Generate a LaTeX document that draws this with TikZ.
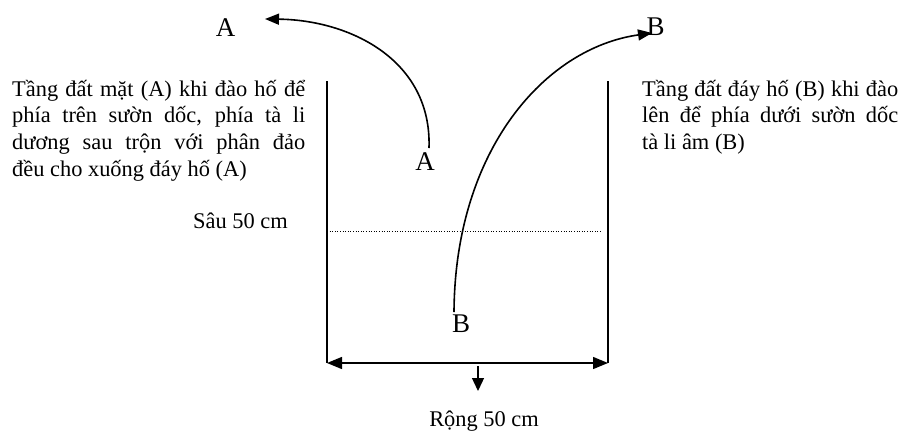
\documentclass[tikz,border=0pt]{standalone}
\usepackage{fontspec}
\setmainfont{Liberation Serif}
\usetikzlibrary{arrows.meta}

\begin{document}
\begin{tikzpicture}[x=1pt, y=-1pt,
  txt/.style={font=\fontsize{22.4}{26.8}\selectfont, inner sep=0pt, anchor=base west},
  para/.style={txt, align=justify},
  lbl/.style={font=\fontsize{27}{30}\selectfont, inner sep=0pt, anchor=base},
  arr/.style={-{Triangle[length=14pt, width=11pt]}, line width=1.6pt},
  wall/.style={line width=1.4pt},
  dim/.style={{Triangle[length=15pt, width=12pt]}-{Triangle[length=15pt, width=12pt]}, line width=1.4pt}
]
  \useasboundingbox (0,0) rectangle (905,432);
  % pit
  \coordinate (tl) at (327,81);
  \coordinate (tr) at (608,81);
  \coordinate (bl) at (327,363);
  \coordinate (br) at (608,363);
  \draw[wall] (tl) -- (bl);
  \draw[wall] (tr) -- (br);
  \draw[dim] (bl) -- (br);
  \coordinate (dl) at (327,231);
  \coordinate (dr) at (602,231);
  \draw[line width=0.9pt, dash pattern=on 1pt off 1.6pt] (dl) -- (dr);
  \coordinate (mid) at (478,366);
  \coordinate (down) at (478,391);
  \draw[-{Triangle[length=13pt, width=12pt]}, line width=1.3pt] (mid) -- (down);
  % labels
  \node[lbl] (atop) at (225.5,36) {A};
  \node[lbl] (ain) at (425,170) {A};
  \node[lbl] (btop) at (655.5,35) {B};
  \node[lbl] (bbot) at (461,332) {B};
  % soil moves
  \coordinate (a1) at (429,148);
  \coordinate (a2) at (265,19);
  \draw[arr] (a1) .. controls (432,60) and (350,20) .. (a2);
  \coordinate (b1) at (454,312);
  \coordinate (b2) at (652,33);
  \draw[arr] (b1) .. controls (455,150) and (545,48) .. (b2);
  % notes
  \node[para, text width=293pt] (left) at (12,96) {T\`{â}ng đất mặt (A) khi đào hố để\linebreak phía trên sườn dốc, phía tà li\linebreak dương sau trộn với phân đảo\linebreak đều cho xuống đáy hố (A)};
  \node[para, text width=256pt] (right) at (642,96) {Tầng đất đáy hố (B) khi đào\linebreak lên để phía dưới sườn dốc\linebreak tà li âm (B)};
  \node[txt] (depth) at (193,228) {Sâu 50 cm};
  \node[txt, anchor=base] (width) at (484,426) {Rộng 50 cm};
\end{tikzpicture}
\end{document}
